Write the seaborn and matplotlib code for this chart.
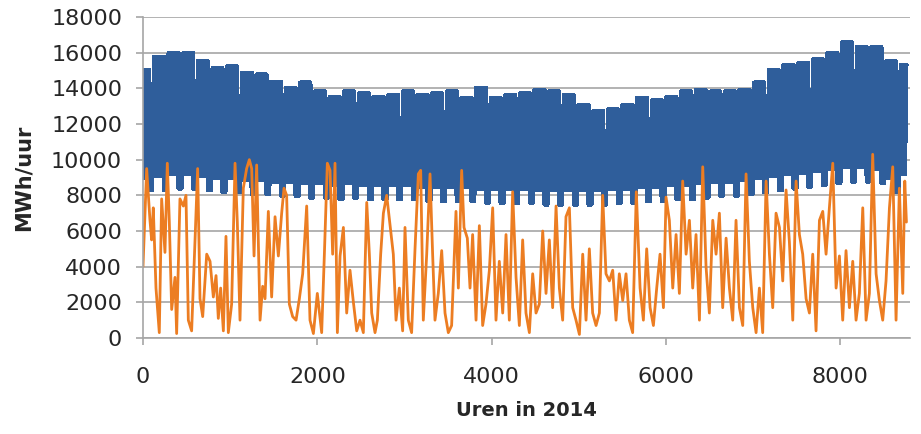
import numpy as np
import matplotlib
matplotlib.use("Agg")
import matplotlib.pyplot as plt
import seaborn as sns

week_peak = [15000, 15750, 15950, 15950, 15500, 15100, 15200, 14850, 14750,
             14350, 14000, 14300, 13800, 13500, 13800, 13700, 13500,
             13600, 13800, 13600, 13700, 13800, 13450, 14000, 13450, 13600,
             13700, 13900, 13800, 13600, 13050, 12700, 12800, 13050, 13450,
             13300, 13500, 13800, 13900, 13800, 13800, 13900, 14300, 15000,
             15300, 15400, 15600, 15950, 16550, 16300, 16300, 15500, 15300]
weekend_peak = [12600, 12800, 12900, 12900, 12700, 12400, 12300, 12100, 12000,
                11800, 11600, 11600, 11400, 11200, 11200, 11100, 11000,
                10900, 10800, 10700, 10700, 10600, 10600, 10700, 10500, 10500,
                10600, 10600, 10600, 10400, 10200, 10100, 10200, 10400, 10500,
                10600, 10700, 10800, 10900, 11000, 11000, 11100, 11300, 11600,
                11800, 12000, 12100, 12400, 12700, 12700, 12700, 11500, 12000]
week_trough = [9000, 9100, 9200, 9200, 9100, 9000, 9000, 8900, 8900,
               8800, 8800, 8700, 8700, 8600, 8700, 8600, 8600,
               8600, 8600, 8500, 8500, 8500, 8500, 8400, 8400, 8400,
               8400, 8300, 8300, 8300, 8300, 8300, 8400, 8400, 8500,
               8500, 8600, 8600, 8700, 8800, 8800, 8900, 9000, 9100,
               9200, 9300, 9400, 9500, 9600, 9600, 9500, 9000, 9200]
weekend_trough = [8300, 8300, 8400, 8400, 8300, 8200, 8200, 8100, 8100,
                  8000, 8000, 7900, 7900, 7800, 7900, 7800, 7800,
                  7800, 7800, 7700, 7700, 7700, 7700, 7600, 7600, 7600,
                  7600, 7500, 7500, 7500, 7500, 7500, 7600, 7600, 7700,
                  7700, 7800, 7800, 7900, 8000, 8000, 8100, 8200, 8300,
                  8400, 8500, 8600, 8700, 8800, 8800, 8700, 8200, 8400]

wind_hours = [0, 42, 80, 99, 118, 149, 187, 214, 252, 279, 302, 329, 367, 386,
              424, 463, 493, 520, 558, 597, 627, 654, 685, 731, 769, 807, 838,
              864, 891, 922, 952, 979, 1017, 1056, 1082, 1113, 1151, 1189, 1220,
              1247, 1274, 1304, 1343, 1373, 1400, 1438, 1476, 1515, 1553, 1591,
              1618, 1648, 1679, 1717, 1756, 1794, 1832, 1878, 1916, 1955, 2000,
              2050, 2081, 2115, 2146, 2176, 2203, 2230, 2261, 2299, 2337, 2375,
              2414, 2452, 2490, 2528, 2567, 2597, 2624, 2662, 2689, 2727, 2758,
              2796, 2872, 2903, 2941, 2979, 3006, 3044, 3082, 3121, 3159, 3186,
              3216, 3255, 3293, 3323, 3350, 3388, 3427, 3465, 3503, 3541, 3591,
              3618, 3656, 3683, 3721, 3752, 3782, 3821, 3859, 3897, 3935, 3974,
              4012, 4050, 4088, 4127, 4165, 4203, 4241, 4280, 4318, 4356, 4394,
              4433, 4471, 4509, 4547, 4586, 4624, 4662, 4700, 4739, 4777, 4815,
              4853, 4892, 4930, 4968, 5007, 5045, 5083, 5121, 5159, 5198, 5236,
              5274, 5312, 5351, 5389, 5427, 5465, 5504, 5542, 5580, 5618, 5660,
              5703, 5741, 5779, 5818, 5856, 5894, 5932, 5971, 6001, 6039, 6078,
              6116, 6154, 6192, 6231, 6269, 6307, 6345, 6384, 6422, 6460, 6498,
              6537, 6575, 6613, 6651, 6690, 6728, 6766, 6804, 6843, 6881, 6919,
              6957, 6996, 7034, 7072, 7110, 7149, 7187, 7225, 7263, 7302, 7340,
              7378, 7416, 7455, 7493, 7531, 7569, 7608, 7646, 7684, 7722, 7761,
              7799, 7837, 7875, 7914, 7952, 7990, 8028, 8066, 8105, 8143, 8181,
              8219, 8258, 8296, 8334, 8372, 8411, 8449, 8487, 8525, 8564, 8602,
              8640, 8678, 8717, 8740, 8759]
wind_mwh = [4000, 9500, 6600, 5500, 7300, 2800, 300, 7800, 4800, 9800, 6500, 1600, 3400, 250,
            7800, 7400, 8000, 1000, 400, 5500, 9500, 2200, 1200, 4700, 4300, 2300, 3500,
            1100, 2800, 400, 5700, 300, 1900, 9800, 6500, 1000, 8400, 9500, 10000,
            9500, 4600, 9700, 1000, 2900, 2200, 7100, 2300, 6800, 4600, 7000,
            8400, 8000, 1900, 1200, 1000, 2200, 3600, 7400, 1000, 250, 2500,
            300, 4700, 9800, 9400, 4700, 9800, 300, 4600, 6200, 1400, 3800,
            2000, 400, 1000, 300, 7600, 4700, 1400, 300, 1000, 4700, 7000,
            8000, 4700, 1000, 2800, 400, 6200, 1000, 300, 5000, 9200, 9400,
            1000, 4700, 9200, 4700, 1000, 2500, 4900, 1400, 300, 700, 7100,
            2800, 9400, 6200, 5600, 2800, 5800, 1000, 6300, 700, 1900, 3800,
            7300, 1000, 4300, 1400, 5800, 1000, 8200, 3400, 700, 5500, 1400,
            300, 3600, 1400, 1900, 6000, 2500, 5500, 1700, 7400, 2800, 1000,
            6800, 7300, 1700, 1000, 200, 4700, 1000, 5000, 1400, 700, 1400,
            8000, 3600, 3200, 3800, 1000, 3600, 2100, 3600, 1000, 300, 8200,
            2800, 1000, 5000, 1700, 700, 2800, 4700, 1700, 7900, 6600, 2800,
            5800, 2500, 8800, 4700, 6600, 2800, 5800, 1000, 9600, 4000, 1400,
            6600, 4700, 7000, 1700, 5600, 2800, 1000, 6600, 1700, 700, 9200,
            4300, 1700, 300, 2800, 300, 8800, 4700, 1700, 7000, 6200, 3200,
            8300, 5400, 1000, 8800, 5800, 4700, 2200, 1400, 4700, 400, 6600,
            7100, 4700, 7300, 9800, 2800, 4600, 1000, 4900, 1700, 4300, 1000,
            2500, 7300, 1000, 2500, 10300, 3600, 2100, 1000, 3200, 7300, 9600,
            1000, 8400, 2500, 8800, 6500]

x_ticks = [0, 2000, 4000, 6000, 8000]
y_ticks = list(range(0, 18001, 2000))

# dag-voor-dag: 1 jan 2014 = woensdag; nacht-dal om 4u, piek van 10u tot 19u
days = np.arange(365)
wk = (days + 2) // 7
weekend = (days + 2) % 7 >= 5
peak = np.where(weekend, np.array(weekend_peak)[wk], np.array(week_peak)[wk])
trough = np.where(weekend, np.array(weekend_trough)[wk], np.array(week_trough)[wk])
load_hours = np.column_stack([days * 24 + 4, days * 24 + 10, days * 24 + 19]).ravel()
load_vals = np.column_stack([trough, peak, peak]).ravel()

sns.set_theme(style="white")
plt.rcParams['font.family'] = ['DejaVu Sans']
plt.rcParams['path.simplify'] = False

fig = plt.figure(figsize=(9.21, 4.34), dpi=100)
ax = fig.add_axes([143 / 921, 1 - 338 / 434, (910 - 143) / 921, (338 - 17) / 434])

sns.lineplot(x=load_hours, y=load_vals, ax=ax, color='#2F5E9B', lw=3.0,
             estimator=None, sort=False, antialiased=False)
sns.lineplot(x=wind_hours, y=wind_mwh, ax=ax, color='#EC7D22', lw=2.0,
             estimator=None, sort=False)

ax.set_xlim(0, 8800)
ax.set_ylim(0, 18000)
ax.set_xticks(x_ticks)
ax.set_yticks(y_ticks)
ax.set_axisbelow(True)
ax.yaxis.grid(True, color='#A6A6A6', lw=1.2)
ax.xaxis.grid(False)
for s in ['top', 'right']:
    ax.spines[s].set_visible(False)
for s in ['left', 'bottom']:
    ax.spines[s].set_color('#A6A6A6')
    ax.spines[s].set_linewidth(1.2)
ax.tick_params(axis='both', which='both', length=5, width=1.2, color='#A6A6A6',
               labelsize=16, labelcolor='#262626')
ax.tick_params(axis='y', pad=10, left=True)
ax.tick_params(axis='x', pad=16, bottom=True)

ax.set_xlabel('Uren in 2014', fontsize=14, fontweight='bold', color='#262626')
ax.set_ylabel('MWh/uur', fontsize=15, fontweight='bold', color='#262626')
ax.xaxis.set_label_coords(0.5, -0.195)
ax.yaxis.set_label_coords(-0.143, 0.5)

fig.savefig('out.png', dpi=100)
